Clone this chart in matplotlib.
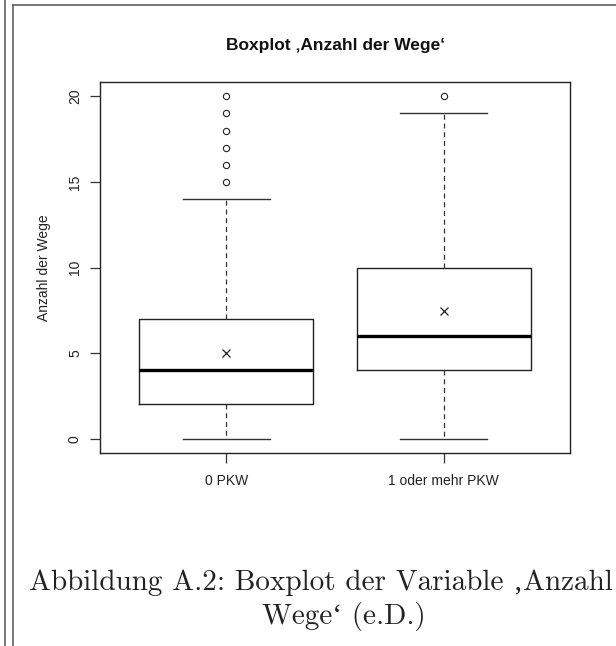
import numpy as np
import matplotlib
matplotlib.use('Agg')
import matplotlib.pyplot as plt
from matplotlib.lines import Line2D

groups = ['0 PKW', '1 oder mehr PKW']
whislo = [0, 0]
q1 = [2, 4]
med = [4, 6]
q3 = [7, 10]
whishi = [14, 19]
means = [5.0, 7.45]
fliers = [[15, 16, 17, 18, 19, 20], [20]]
yticks = [0, 5, 10, 15, 20]

title = 'Boxplot \u201aAnzahl der Wege\u2018'
ylab = 'Anzahl der Wege'
cap1 = 'Abbildung A.2: Boxplot der Variable \u201aAnzahl'
cap2 = 'Wege\u2018 (e.D.)'

plt.rcParams['font.family'] = ['Liberation Sans', 'DejaVu Sans']
W, H = 616, 646
fig = plt.figure(figsize=(W / 100, H / 100), dpi=100)
fig.patch.set_facecolor('white')

def px(x, y):
    return x / W, 1 - y / H

l, t = px(100, 82)
r, b = px(570, 453)
ax = fig.add_axes([l, b, r - l, t - b])

stats = []
for i in range(len(groups)):
    stats.append(dict(label=groups[i], whislo=whislo[i], q1=q1[i], med=med[i],
                      q3=q3[i], whishi=whishi[i], mean=means[i], fliers=fliers[i]))

ax.bxp(stats, positions=[1, 2], widths=0.8, capwidths=0.4, showmeans=True,
       boxprops=dict(color='#222222', linewidth=1.0),
       medianprops=dict(color='black', linewidth=2.4),
       whiskerprops=dict(color='#333333', linewidth=0.9, linestyle=(0, (4, 3))),
       capprops=dict(color='#333333', linewidth=1.0),
       meanprops=dict(marker='x', markeredgecolor='#222222', markersize=6, markeredgewidth=0.9),
       flierprops=dict(marker='o', markerfacecolor='none', markeredgecolor='#222222',
                       markersize=4.5, markeredgewidth=0.8))

ax.set_xlim(0.42, 2.58)
ax.set_ylim(-0.84, 20.84)
ax.set_yticks(yticks)
ax.set_yticklabels([str(v) for v in yticks], rotation=90, va='center')
ax.tick_params(axis='both', length=7, width=0.9, color='#333333', labelsize=10,
               labelcolor='#222222')
ax.tick_params(axis='y', pad=6)
ax.tick_params(axis='x', pad=8)
for s in ax.spines.values():
    s.set_color('#222222')
    s.set_linewidth(1.0)
ax.set_ylabel(ylab, fontsize=10, color='#222222')
ax.yaxis.set_label_coords(-0.105, 0.5)

x0, y0 = px(336, 50)
fig.text(x0, y0, title, ha='center', va='baseline', fontsize=12.5, fontweight='bold', color='#111111')

x1, y1 = px(321, 590)
fig.text(x1, y1, cap1, ha='center', va='baseline', fontsize=21,
         family=['cmr10', 'Liberation Serif', 'DejaVu Serif'], color='#222222')
x2, y2 = px(344, 624)
fig.text(x2, y2, cap2, ha='center', va='baseline', fontsize=21,
         family=['cmr10', 'Liberation Serif', 'DejaVu Serif'], color='#222222')

# Rahmen der Seite
fc = '#555555'
fig.add_artist(Line2D([4.5 / W, 4.5 / W], [0, 1], transform=fig.transFigure, color=fc, lw=1.1))
fig.add_artist(Line2D([12.5 / W, 12.5 / W], [0, 1 - 5.3 / H], transform=fig.transFigure, color=fc, lw=1.1))
fig.add_artist(Line2D([12.5 / W, 1], [1 - 5.3 / H, 1 - 5.3 / H], transform=fig.transFigure, color=fc, lw=1.1))

fig.savefig('out.png', dpi=100)
